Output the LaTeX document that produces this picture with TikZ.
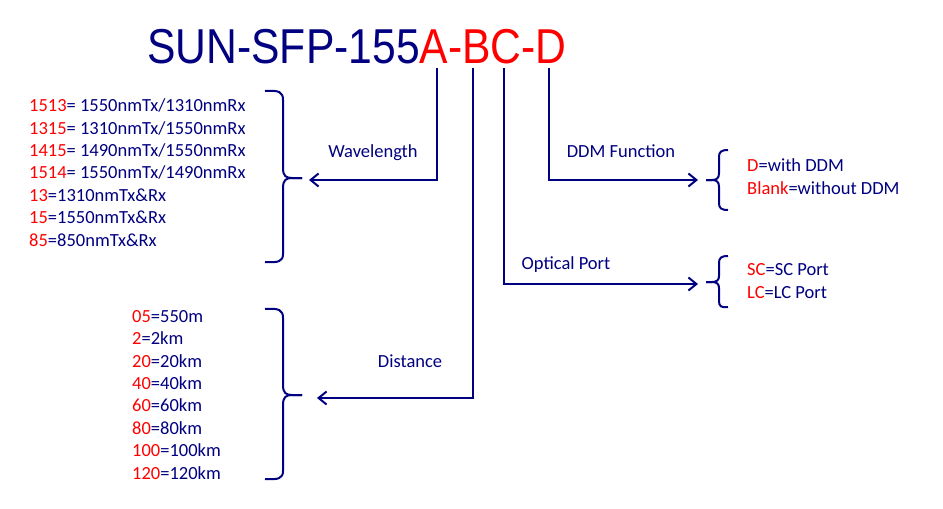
\documentclass[tikz,border=0pt]{standalone}
\usepackage{fontspec}
\usepackage{graphicx}
\setmainfont{Carlito}
\newfontfamily\titlefont{Liberation Sans}
\usetikzlibrary{arrows.meta}
\definecolor{navy}{RGB}{0,0,128}
\definecolor{codered}{RGB}{255,0,0}
\newcommand{\code}[1]{\textcolor{codered}{#1}}

\begin{document}
\begin{tikzpicture}[x=1pt,y=-1pt,
  conn/.style={draw=navy,line width=2pt,-{Straight Barb[length=8pt,width=13pt,line width=2pt]}},
  bracket/.style={draw=navy,line width=2pt},
  list/.style={font=\fontsize{18.5}{22.4}\selectfont,text=navy,align=left,inner sep=0pt,anchor=base west},
  part/.style={font=\fontsize{18.5}{22}\selectfont,text=navy,inner sep=0pt,anchor=base}]
				\useasboundingbox (0,0) rectangle (943,509);
				\node[font=\titlefont\fontsize{49}{50}\selectfont,text=navy,inner sep=0pt,anchor=base] (code) at (357,63)
					{\scalebox{0.87}[1]{SUN-SFP-155\code{A-BC-D}}};
				\coordinate (a) at (437,68);
				\coordinate (b) at (473,68);
				\coordinate (c) at (504,68);
				\coordinate (d) at (549,68);
				\coordinate (wl) at (309,180);
				\coordinate (ds) at (317,398);
				\coordinate (op) at (698,284);
				\coordinate (dm) at (698,180);
				% wavelength codes (placed by the last line)
				\node[list] (wllist) at (29,246) {\code{1513}= 1550nmTx/1310nmRx\\
					\code{1315}= 1310nmTx/1550nmRx\\
					\code{1415}= 1490nmTx/1550nmRx\\
					\code{1514}= 1550nmTx/1490nmRx\\
					\code{13}=1310nmTx\&Rx\\
					\code{15}=1550nmTx\&Rx\\
					\code{85}=850nmTx\&Rx};
				% distance codes
				\node[list] (dslist) at (132,479) {\code{05}=550m\\
					\code{2}=2km\\
					\code{20}=20km\\
					\code{40}=40km\\
					\code{60}=60km\\
					\code{80}=80km\\
					\code{100}=100km\\
					\code{120}=120km};
				\node[list] (dmlist) at (747,194) {\code{D}=with DDM\\
					\code{Blank}=without DDM};
				\node[list] (oplist) at (747,298) {\code{SC}=SC Port\\
					\code{LC}=LC Port};
				% braces
				\draw[bracket] (265,91) .. controls (279,90) and (283,92) .. (283,100) -- (283,168)
					.. controls (283,176) and (286,178) .. (292,178) -- (302,178);
				\draw[bracket] (302,178) -- (292,178) .. controls (286,178) and (283,180) .. (283,188)
					-- (283,254) .. controls (283,261) and (279,263) .. (265,262);
				\draw[bracket] (265,309) .. controls (279,308) and (283,310) .. (283,318) -- (283,385)
					.. controls (283,393) and (286,395) .. (292,395) -- (302,395);
				\draw[bracket] (302,395) -- (292,395) .. controls (286,395) and (283,397) .. (283,405)
					-- (283,471) .. controls (283,478) and (279,480) .. (265,479);
				\draw[bracket] (728,150) .. controls (721,150) and (719,152) .. (719,157) -- (719,173)
					.. controls (719,178) and (717,180) .. (712,180) -- (706,180);
				\draw[bracket] (706,180) -- (712,180) .. controls (717,180) and (719,182) .. (719,187)
					-- (719,203) .. controls (719,208) and (721,210) .. (728,210);
				\draw[bracket] (728,256) .. controls (721,256) and (719,258) .. (719,263) -- (719,276)
					.. controls (719,280) and (717,282) .. (712,282) -- (706,282);
				\draw[bracket] (706,282) -- (712,282) .. controls (717,282) and (719,284) .. (719,288)
					-- (719,301) .. controls (719,306) and (721,308) .. (728,307);
				% connectors
				\draw[conn] (a) |- (wl);
				\draw[conn] (b) |- (ds);
				\draw[conn] (c) |- (op);
				\draw[conn] (d) |- (dm);
				\node[part] (wavelength) at (373,157) {Wavelength};
				\node[part] (distance) at (410,367) {Distance};
				\node[part] (optport) at (566,269) {Optical Port};
				\node[part] (ddmfn) at (621,157) {DDM Function};
			\end{tikzpicture}
\end{document}
